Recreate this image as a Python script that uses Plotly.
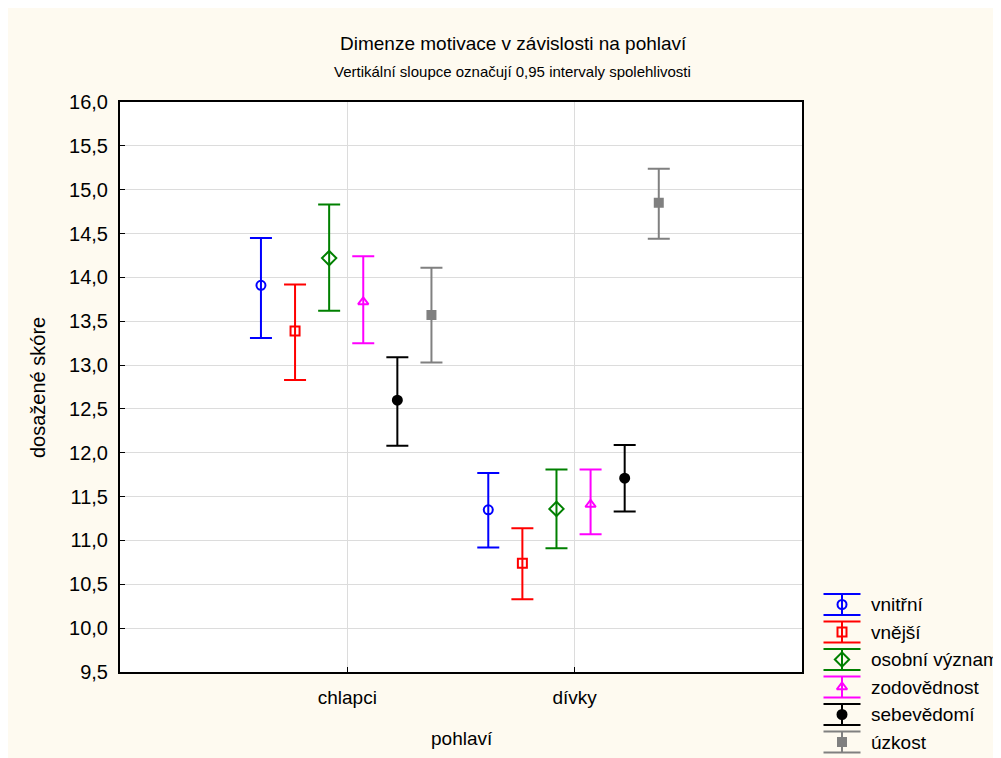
import plotly.graph_objects as go

# ---- data ----
categories = ["chlapci", "dívky"]
series_names = ["vnitřní", "vnější", "osobní význam", "zodovědnost", "sebevědomí", "úzkost"]
# means per series: [chlapci, dívky]
mean_vnitrni = [13.91, 11.35]
mean_vnejsi = [13.39, 10.74]
mean_osobni = [14.22, 11.36]
mean_zodov = [13.72, 11.41]
mean_sebev = [12.60, 11.71]
mean_uzkost = [13.57, 14.85]
# lower / upper 95% CI limits
lo_vnitrni = [13.31, 10.92]
hi_vnitrni = [14.45, 11.77]
lo_vnejsi = [12.83, 10.33]
hi_vnejsi = [13.92, 11.14]
lo_osobni = [13.62, 10.91]
hi_osobni = [14.83, 11.81]
lo_zodov = [13.25, 11.07]
hi_zodov = [14.24, 11.81]
lo_sebev = [12.08, 11.33]
hi_sebev = [13.09, 12.09]
lo_uzkost = [13.03, 14.44]
hi_uzkost = [14.11, 15.24]
y_ticks = [9.5, 10.0, 10.5, 11.0, 11.5, 12.0, 12.5, 13.0, 13.5, 14.0, 14.5, 15.0, 15.5, 16.0]

means = [mean_vnitrni, mean_vnejsi, mean_osobni, mean_zodov, mean_sebev, mean_uzkost]
lows = [lo_vnitrni, lo_vnejsi, lo_osobni, lo_zodov, lo_sebev, lo_uzkost]
highs = [hi_vnitrni, hi_vnejsi, hi_osobni, hi_zodov, hi_sebev, hi_uzkost]

# ---- styles ----
colors = ["#0000FF", "#FF0000", "#008000", "#FF00FF", "#000000", "#808080"]
symbols = ["circle-open", "square-open", "diamond-open", "triangle-up-open", "circle", "square"]
msizes = [9, 9, 11, 9, 9, 8]

W, H = 1001, 758
PL, PR, PT, PB = 112, 794, 94, 664  # plot area in figure px
CREAM = "#FEFAF0"
FONT = "Liberation Sans, Arial, sans-serif"
NARROW = "Liberation Sans Narrow, Arial Narrow, Liberation Sans, sans-serif"

fig = go.Figure()

cat_pos = list(range(len(categories)))
for i, name in enumerate(series_names):
    off = -0.38 + 0.15 * i
    xs = [c + off for c in cat_pos]
    m = means[i]
    fig.add_trace(go.Scatter(
        x=xs, y=m, mode="markers", name=name, showlegend=False,
        marker=dict(symbol=symbols[i], size=msizes[i], color=colors[i],
                    line=dict(color=colors[i], width=2)),
        error_y=dict(type="data", symmetric=False,
                     array=[h - v for h, v in zip(highs[i], m)],
                     arrayminus=[v - l for v, l in zip(m, lows[i])],
                     color=colors[i], thickness=2, width=11),
        xaxis="x", yaxis="y",
    ))

# ---- custom legend (on a hidden full-figure pixel axis) ----
leg_x, leg_y0, leg_dy = 834, 596.5, 27.5
for i, name in enumerate(series_names):
    yy = leg_y0 + leg_dy * i
    fig.add_trace(go.Scatter(
        x=[leg_x], y=[yy], mode="markers", showlegend=False, hoverinfo="skip",
        marker=dict(symbol=symbols[i], size=msizes[i], color=colors[i],
                    line=dict(color=colors[i], width=2)),
        error_y=dict(type="constant", value=10.5, color=colors[i], thickness=2, width=18.5),
        xaxis="x2", yaxis="y2",
    ))
    fig.add_annotation(x=861, y=yy, xref="x2", yref="y2", text=name, showarrow=False,
                       xanchor="left", yanchor="middle",
                       font=dict(family=FONT, size=19, color="black"))

fig.update_layout(
    width=W, height=H,
    margin=dict(l=0, r=0, t=0, b=0),
    paper_bgcolor=CREAM,
    plot_bgcolor="rgba(0,0,0,0)",
    separators=", ",
    showlegend=False,
    xaxis=dict(
        domain=[PL / W, PR / W], range=[-1, 2],
        tickvals=cat_pos, ticktext=categories,
        showgrid=True, gridcolor="#DCDCDC", gridwidth=1, zeroline=False,
        showline=True, linecolor="black", linewidth=2, mirror=True,
        ticks="inside", ticklen=5, tickwidth=1, tickcolor="black",
        tickfont=dict(family=NARROW, size=19, color="black"),
        ticklabelstandoff=7, automargin=False, fixedrange=True,
    ),
    yaxis=dict(
        domain=[1 - PB / H, 1 - PT / H], range=[9.5, 16.0],
        tickvals=y_ticks, tickformat=".1f",
        showgrid=True, gridcolor="#DCDCDC", gridwidth=1, zeroline=False,
        showline=True, linecolor="black", linewidth=2, mirror=True,
        ticks="inside", ticklen=5, tickwidth=1, tickcolor="black",
        tickfont=dict(family=FONT, size=20, color="black"),
        ticklabelstandoff=6, automargin=False, fixedrange=True,
    ),
    xaxis2=dict(domain=[0, 1], range=[0, W], visible=False, fixedrange=True),
    yaxis2=dict(domain=[0, 1], range=[H, 0], visible=False, fixedrange=True),
    shapes=[
        # white plot area
        dict(type="rect", xref="x domain", yref="y domain", x0=0, x1=1, y0=0, y1=1,
             fillcolor="white", line=dict(width=0), layer="below"),
    ],
)

# titles
fig.add_annotation(x=505 / W, y=1 - 35 / H, xref="paper", yref="paper",
                   text="Dimenze motivace v závislosti na pohlaví", showarrow=False,
                   xanchor="center", yanchor="middle",
                   font=dict(family=FONT, size=19, color="black"))
fig.add_annotation(x=504 / W, y=1 - 64 / H, xref="paper", yref="paper",
                   text="Vertikální sloupce označují 0,95 intervaly spolehlivosti", showarrow=False,
                   xanchor="center", yanchor="middle",
                   font=dict(family=NARROW, size=15, color="black"))
fig.add_annotation(x=454 / W, y=1 - 730 / H, xref="paper", yref="paper",
                   text="pohlaví", showarrow=False, xanchor="center", yanchor="middle",
                   font=dict(family=NARROW, size=19, color="black"))
fig.add_annotation(x=30 / W, y=1 - 380 / H, xref="paper", yref="paper",
                   text="dosažené skóre", showarrow=False, textangle=-90,
                   xanchor="center", yanchor="middle",
                   font=dict(family=FONT, size=20, color="black"))

fig.write_html("out.html")
